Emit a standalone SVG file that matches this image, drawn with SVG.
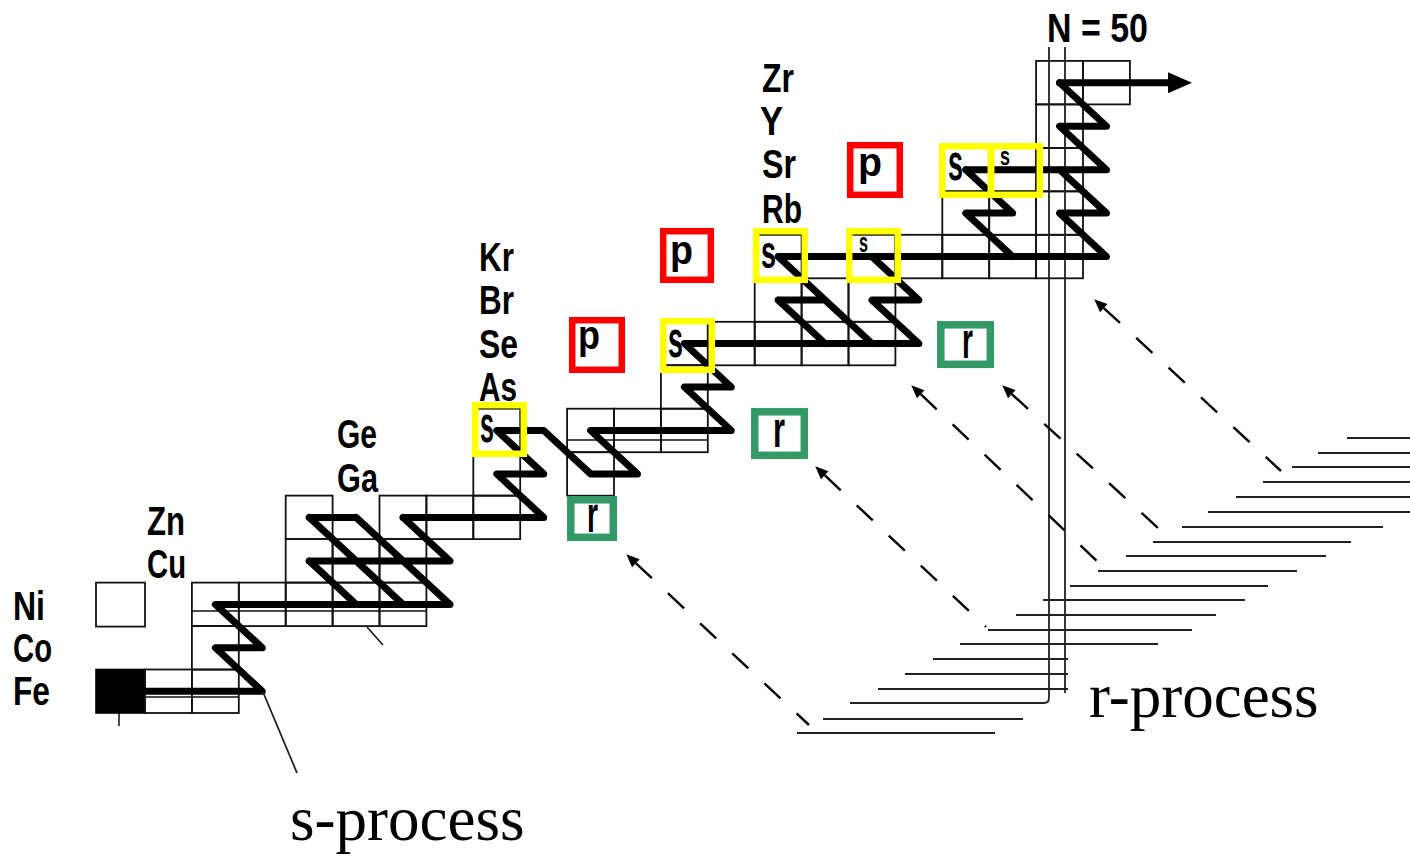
<svg xmlns="http://www.w3.org/2000/svg" width="1410" height="857" viewBox="0 0 1410 857">
<style>
.cell{fill:none;stroke:#111;stroke-width:1.8}
.thin{fill:none;stroke:#111;stroke-width:1.5}
.lbl{font-family:"Liberation Sans",Arial,sans-serif;font-weight:bold;font-size:41px;fill:#000}
.flow{fill:none;stroke:#000;stroke-width:7;stroke-linejoin:round;stroke-linecap:round}
.ybox{fill:none;stroke:#ffff00;stroke-width:6.5}
.pbox{fill:none;stroke:#ff0000;stroke-width:6.5}
.rbox{fill:#fff;stroke:#339966;stroke-width:7.5}
.tag{font-family:"Liberation Sans",Arial,sans-serif;font-weight:bold;fill:#000}
.rline{fill:none;stroke:#222;stroke-width:1.8}
.dash{fill:none;stroke:#000;stroke-width:2.4;stroke-dasharray:22 22}
.cap{font-family:"Liberation Serif","Times New Roman",serif;font-size:63px;fill:#000}
</style>
<defs>
<marker id="ah" markerUnits="userSpaceOnUse" markerWidth="14" markerHeight="12" refX="0" refY="5.5" orient="auto-start-reverse" overflow="visible">
<path d="M0 0L13 5.5L0 11z" fill="#000"/>
</marker>
<marker id="bigah" markerUnits="userSpaceOnUse" markerWidth="26" markerHeight="22" refX="0" refY="10.5" orient="auto" overflow="visible">
<path d="M0 0L24 10.5L0 21z" fill="#000"/>
</marker>
</defs>
<rect width="1410" height="857" fill="#fff"/>

<!-- nuclide grid (columns 46.9 wide, rows 43.5 high) -->
<g id="grid">
<rect x="96" y="669.5" width="49" height="43.5" fill="#000" stroke="#000" stroke-width="1.6"/>
<rect class="cell" x="96" y="582.6" width="49" height="44"/>
<rect class="cell" x="145" y="669.5" width="46.9" height="43.5"/>
<rect class="cell" x="191.9" y="669.5" width="46.9" height="43.5"/>
<rect class="cell" x="191.9" y="626.1" width="46.9" height="43.5"/>
<rect class="cell" x="191.9" y="582.6" width="46.9" height="43.5"/>
<rect class="cell" x="238.8" y="582.6" width="46.9" height="43.5"/>
<rect class="cell" x="285.7" y="582.6" width="46.9" height="43.5"/>
<rect class="cell" x="332.6" y="582.6" width="46.9" height="43.5"/>
<rect class="cell" x="379.5" y="582.6" width="46.9" height="43.5"/>
<rect class="cell" x="285.7" y="539.1" width="46.9" height="43.5"/>
<rect class="cell" x="332.6" y="539.1" width="46.9" height="43.5"/>
<rect class="cell" x="379.5" y="539.1" width="46.9" height="43.5"/>
<rect class="cell" x="285.7" y="495.6" width="46.9" height="43.5"/>
<rect class="cell" x="379.5" y="495.6" width="46.9" height="43.5"/>
<rect class="cell" x="426.4" y="495.6" width="46.9" height="43.5"/>
<rect class="cell" x="473.3" y="495.6" width="46.9" height="43.5"/>
<rect class="cell" x="473.3" y="452.2" width="46.9" height="43.5"/>
<rect class="cell" x="567.1" y="452.2" width="46.9" height="43.5"/>
<rect class="cell" x="473.3" y="408.7" width="46.9" height="43.5"/>
<rect class="cell" x="567.1" y="408.7" width="46.9" height="43.5"/>
<rect class="cell" x="614" y="408.7" width="46.9" height="43.5"/>
<rect class="cell" x="660.9" y="408.7" width="46.9" height="43.5"/>
<rect class="cell" x="660.9" y="365.2" width="46.9" height="43.5"/>
<rect class="cell" x="660.9" y="321.8" width="46.9" height="43.5"/>
<rect class="cell" x="707.8" y="321.8" width="46.9" height="43.5"/>
<rect class="cell" x="754.7" y="321.8" width="46.9" height="43.5"/>
<rect class="cell" x="801.6" y="321.8" width="46.9" height="43.5"/>
<rect class="cell" x="848.5" y="321.8" width="46.9" height="43.5"/>
<rect class="cell" x="754.7" y="278.3" width="46.9" height="43.5"/>
<rect class="cell" x="801.6" y="278.3" width="46.9" height="43.5"/>
<rect class="cell" x="848.5" y="278.3" width="46.9" height="43.5"/>
<rect class="cell" x="754.7" y="234.8" width="46.9" height="43.5"/>
<rect class="cell" x="848.5" y="234.8" width="46.9" height="43.5"/>
<rect class="cell" x="895.4" y="234.8" width="46.9" height="43.5"/>
<rect class="cell" x="942.3" y="234.8" width="46.9" height="43.5"/>
<rect class="cell" x="989.2" y="234.8" width="46.9" height="43.5"/>
<rect class="cell" x="1036.1" y="234.8" width="46.9" height="43.5"/>
<rect class="cell" x="942.3" y="191.3" width="46.9" height="43.5"/>
<rect class="cell" x="989.2" y="191.3" width="46.9" height="43.5"/>
<rect class="cell" x="1036.1" y="191.3" width="46.9" height="43.5"/>
<rect class="cell" x="942.3" y="147.9" width="46.9" height="43.5"/>
<rect class="cell" x="989.2" y="147.9" width="46.9" height="43.5"/>
<rect class="cell" x="1036.1" y="147.9" width="46.9" height="43.5"/>
<rect class="cell" x="1036.1" y="104.4" width="46.9" height="43.5"/>
<rect class="cell" x="1036.1" y="60.9" width="46.9" height="43.5"/>
<rect class="cell" x="1083" y="60.9" width="46.9" height="43.5"/>
<path class="thin" d="M145 697H238.8M191.9 611H426.4M567.1 440H707.8"/>
<path class="thin" d="M119 713V726M367 627L383 645"/>
</g>

<!-- element symbols -->
<g id="elements" class="lbl">
<text x="13" y="705" textLength="37" lengthAdjust="spacingAndGlyphs">Fe</text>
<text x="13" y="662" textLength="39" lengthAdjust="spacingAndGlyphs">Co</text>
<text x="13" y="620" textLength="32" lengthAdjust="spacingAndGlyphs">Ni</text>
<text x="147" y="578" textLength="39" lengthAdjust="spacingAndGlyphs">Cu</text>
<text x="147" y="535" textLength="38" lengthAdjust="spacingAndGlyphs">Zn</text>
<text x="337" y="492" textLength="41" lengthAdjust="spacingAndGlyphs">Ga</text>
<text x="337" y="448" textLength="40" lengthAdjust="spacingAndGlyphs">Ge</text>
<text x="479" y="401" textLength="38" lengthAdjust="spacingAndGlyphs">As</text>
<text x="479" y="358" textLength="39" lengthAdjust="spacingAndGlyphs">Se</text>
<text x="479" y="314" textLength="35" lengthAdjust="spacingAndGlyphs">Br</text>
<text x="479" y="271" textLength="35" lengthAdjust="spacingAndGlyphs">Kr</text>
<text x="762" y="223" textLength="40" lengthAdjust="spacingAndGlyphs">Rb</text>
<text x="762" y="178" textLength="34" lengthAdjust="spacingAndGlyphs">Sr</text>
<text x="760" y="135" textLength="23" lengthAdjust="spacingAndGlyphs">Y</text>
<text x="762" y="92" textLength="32" lengthAdjust="spacingAndGlyphs">Zr</text>
</g>

<!-- N = 50 magic number lines and r-process decay staircase -->
<g id="n50">
<text class="lbl" x="1047" y="42" font-size="44" textLength="101" lengthAdjust="spacingAndGlyphs">N = 50</text>
<path class="rline" d="M1049 47V698Q1049 703 1044 703H850M1065 47V693"/>
<path class="rline" d="M1347 438H1410M1318 453H1410M1292 467H1410M1263 482H1410M1236 497H1410M1208 512H1410M1182 527H1383M1153 542H1351M1126 556H1326M1098 571H1297M1070 586H1268M1043 600H1245M1016 615H1216M988 630H1192M960 644H1158M933 659H1068M905 674H1068M878 689H1068M823 719H1023M797 733H995"/>
</g>

<!-- s-process and r-process flows -->
<g id="connectors">
<path class="flow" d="M140 691.3H262.3L215.4 647.8H262.3L215.4 604.4H449.9
M309.2 560.9H449.9M309.2 517.4H356.1
M309.2 560.9L356.1 604.4M309.2 517.4L403 604.4M356.1 517.4L449.9 604.4M403 517.4L449.9 560.9
M403 517.4H543.7L496.8 473.9H543.7L496.8 430.5H543.7L590.6 473.9H637.5L590.6 430.5H731.3L684.4 387H731.3L684.4 343.5H918.9L872 300.1H918.9L872 256.6
M778.2 300.1H825.1M778.2 300.1L825.1 343.5M778.2 256.6L872 343.5
M778.2 256.6H1106.5L1059.6 213.1H1106.5L1059.6 169.7
M1012.7 256.6L965.8 213.1H1012.7L965.8 169.7
M965.8 169.7H1106.5L1059.6 126.2H1106.5L1059.6 82.7"/>
<path class="flow" d="M1059.6 82.7H1168" stroke-linecap="butt" marker-end="url(#bigah)"/>
<path class="dash" d="M635.8 563.2L809 725" marker-start="url(#ah)"/>
<path class="dash" d="M824.7 475.2L986 627" marker-start="url(#ah)"/>
<path class="dash" d="M920.7 394.2L1098 562" marker-start="url(#ah)"/>
<path class="dash" d="M1011.8 394.1L1158 528" marker-start="url(#ah)"/>
<path class="dash" d="M1103.8 308.1L1281 471" marker-start="url(#ah)"/>
<path class="rline" d="M263 692L297 773"/>
</g>

<!-- s-only nuclei -->
<g id="s-Ge70"><rect class="ybox" x="475.2" y="405.2" width="48.6" height="48.6"/><text class="tag" x="480" y="442" font-size="52" textLength="14" lengthAdjust="spacingAndGlyphs">s</text></g>
<g id="s-Se76"><rect class="ybox" x="663.2" y="321.2" width="48.6" height="48.6"/><text class="tag" x="668" y="357" font-size="52" textLength="15" lengthAdjust="spacingAndGlyphs">s</text></g>
<g id="s-Kr80"><rect class="ybox" x="756.2" y="231.2" width="48.6" height="48.6"/><text class="tag" x="761" y="268" font-size="46" textLength="15" lengthAdjust="spacingAndGlyphs">s</text></g>
<g id="s-Kr82"><rect class="ybox" x="849.2" y="231.2" width="48.6" height="48.6"/><text class="tag" x="859" y="252" font-size="28" textLength="9" lengthAdjust="spacingAndGlyphs">s</text></g>
<g id="s-Sr86"><rect class="ybox" x="942.2" y="146.2" width="48.6" height="48.6"/><text class="tag" x="948" y="180" font-size="52" textLength="15" lengthAdjust="spacingAndGlyphs">s</text></g>
<g id="s-Sr87"><rect class="ybox" x="991.2" y="146.2" width="48.6" height="48.6"/><text class="tag" x="1000" y="165" font-size="26" textLength="10" lengthAdjust="spacingAndGlyphs">s</text></g>

<!-- p-only nuclei -->
<g id="p-Se74"><rect class="pbox" x="572.2" y="320.2" width="49.6" height="49.6"/><text class="tag" x="578" y="349" font-size="40" textLength="22" lengthAdjust="spacingAndGlyphs">p</text></g>
<g id="p-Kr78"><rect class="pbox" x="663.2" y="231.2" width="47.6" height="48.6"/><text class="tag" x="670" y="264" font-size="40" textLength="23" lengthAdjust="spacingAndGlyphs">p</text></g>
<g id="p-Sr84"><rect class="pbox" x="850.2" y="145.2" width="49.6" height="49.6"/><text class="tag" x="858" y="176" font-size="40" textLength="24" lengthAdjust="spacingAndGlyphs">p</text></g>

<!-- r-only nuclei -->
<g id="r-Zn70"><rect class="rbox" x="570.8" y="499.8" width="42.5" height="37.5"/><text class="tag" x="587" y="532" font-size="52" textLength="11" lengthAdjust="spacingAndGlyphs">r</text></g>
<g id="r-Ge76"><rect class="rbox" x="754.8" y="411.8" width="49.5" height="43.5"/><text class="tag" x="773" y="447" font-size="52" textLength="12" lengthAdjust="spacingAndGlyphs">r</text></g>
<g id="r-Se82"><rect class="rbox" x="940.8" y="324.8" width="49.5" height="39.5"/><text class="tag" x="962" y="358" font-size="52" textLength="11" lengthAdjust="spacingAndGlyphs">r</text></g>

<g id="captions">
<text class="cap" x="290" y="840">s-process</text>
<text class="cap" x="1089" y="717">r-process</text>
</g>
</svg>
